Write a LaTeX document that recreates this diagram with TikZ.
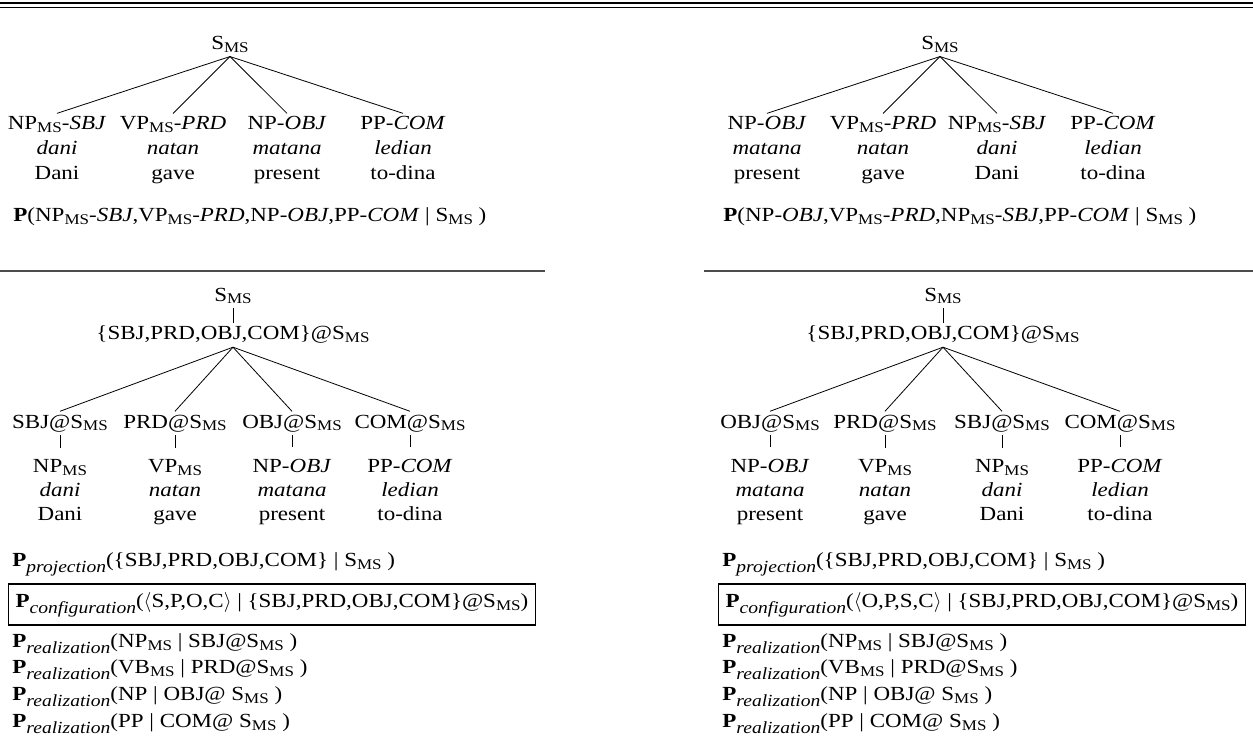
\documentclass[tikz,border=0pt]{standalone}
\usepackage{fontspec}
\setmainfont{Liberation Serif}[FakeStretch=1.15]
\newcommand{\msub}{\raisebox{-0.15em}{\fontsize{7.4}{8}\selectfont MS}}
\newcommand{\Psub}[1]{\textbf{P}\raisebox{-0.32em}{\fontsize{8.5}{9}\selectfont\itshape #1}}
\begin{document}
\begin{tikzpicture}[x=0.5pt,y=-0.5pt,
  every node/.style={font=\fontsize{10}{12}\selectfont},
  lab/.style={inner sep=1.5pt,anchor=base},
  formula/.style={inner sep=0pt,anchor=base west},
  cfgbox/.style={draw,line width=0.6pt,inner xsep=3.5pt,inner ysep=4pt,anchor=base west},
  branch/.style={line width=0.4pt},
  stem/.style={line width=0.4pt,shorten >=4pt},
  seprule/.style={line width=0.6pt,black!70}]
\useasboundingbox (0,0) rectangle (1253,743);
% top rules
\draw[line width=1.15pt] (0,2.8) -- (1253,2.8);
\draw[line width=0.5pt] (0,7.5) -- (1253,7.5);
\draw[seprule] (0,271) -- (545,271);
\draw[seprule] (704,271) -- (1253,271);

% ---------- top left tree ----------
\node[lab] (tlr) at (230,50) {S\msub};
\node[lab] (tl1) at (57,130) {NP\msub-\textit{SBJ}};
\node[lab] (tl1w) at (57,155) {\textit{dani}};
\node[lab] (tl1g) at (57,180) {Dani};
\node[lab] (tl2) at (173,130) {VP\msub-\textit{PRD}};
\node[lab] (tl2w) at (173,155) {\textit{natan}};
\node[lab] (tl2g) at (173,180) {gave};
\node[lab] (tl3) at (287,130) {NP-\textit{OBJ}};
\node[lab] (tl3w) at (287,155) {\textit{matana}};
\node[lab] (tl3g) at (287,180) {present};
\node[lab] (tl4) at (403,130) {PP-\textit{COM}};
\node[lab] (tl4w) at (403,155) {\textit{ledian}};
\node[lab] (tl4g) at (403,180) {to-dina};
\foreach \c in {tl1,tl2,tl3,tl4} \draw[branch] (tlr.south) -- (\c.north);
\node[formula] (tlf) at (13,222) {\textbf{P}(NP\msub-\textit{SBJ},VP\msub-\textit{PRD},NP-\textit{OBJ},PP-\textit{COM} | S\msub{} )};

% ---------- top right tree ----------
\node[lab] (trr) at (940,50) {S\msub};
\node[lab] (tr1) at (767,130) {NP-\textit{OBJ}};
\node[lab] (tr1w) at (767,155) {\textit{matana}};
\node[lab] (tr1g) at (767,180) {present};
\node[lab] (tr2) at (883,130) {VP\msub-\textit{PRD}};
\node[lab] (tr2w) at (883,155) {\textit{natan}};
\node[lab] (tr2g) at (883,180) {gave};
\node[lab] (tr3) at (997,130) {NP\msub-\textit{SBJ}};
\node[lab] (tr3w) at (997,155) {\textit{dani}};
\node[lab] (tr3g) at (997,180) {Dani};
\node[lab] (tr4) at (1113,130) {PP-\textit{COM}};
\node[lab] (tr4w) at (1113,155) {\textit{ledian}};
\node[lab] (tr4g) at (1113,180) {to-dina};
\foreach \c in {tr1,tr2,tr3,tr4} \draw[branch] (trr.south) -- (\c.north);
\node[formula] (trf) at (723,222) {\textbf{P}(NP-\textit{OBJ},VP\msub-\textit{PRD},NP\msub-\textit{SBJ},PP-\textit{COM} | S\msub{} )};

% ---------- bottom left tree ----------
\node[lab] (blr) at (233,301) {S\msub};
\node[lab] (bls) at (233,340) {\{SBJ,PRD,OBJ,COM\}@S\msub};
\draw[branch] (blr.south) -- (bls.north);
\node[lab] (bl1) at (60,428) {SBJ@S\msub};
\node[lab] (bl2) at (175,428) {PRD@S\msub};
\node[lab] (bl3) at (292,428) {OBJ@S\msub};
\node[lab] (bl4) at (410,428) {COM@S\msub};
\foreach \c in {bl1,bl2,bl3,bl4} \draw[branch] (bls.south) -- (\c.north);
\node[lab] (bl1n) at (60,472) {NP\msub};
\node[lab] (bl1w) at (60,496) {\textit{dani}};
\node[lab] (bl1g) at (60,520) {Dani};
\node[lab] (bl2n) at (175,472) {VP\msub};
\node[lab] (bl2w) at (175,496) {\textit{natan}};
\node[lab] (bl2g) at (175,520) {gave};
\node[lab] (bl3n) at (292,472) {NP-\textit{OBJ}};
\node[lab] (bl3w) at (292,496) {\textit{matana}};
\node[lab] (bl3g) at (292,520) {present};
\node[lab] (bl4n) at (410,472) {PP-\textit{COM}};
\node[lab] (bl4w) at (410,496) {\textit{ledian}};
\node[lab] (bl4g) at (410,520) {to-dina};
\foreach \c in {bl1,bl2,bl3,bl4} \draw[stem] (\c.south) -- (\c n.north);
\node[formula] (blp) at (12,566) {\Psub{projection}(\{SBJ,PRD,OBJ,COM\} | S\msub{} )};
\node[cfgbox] (blc) at (8,607) {\Psub{configuration}($\langle$S,P,O,C$\rangle$ | \{SBJ,PRD,OBJ,COM\}@S\msub)};
\node[formula] (blq1) at (12,647) {\Psub{realization}(NP\msub{} | SBJ@S\msub{} )};
\node[formula] (blq2) at (12,673) {\Psub{realization}(VB\msub{} | PRD@S\msub{} )};
\node[formula] (blq3) at (12,700) {\Psub{realization}(NP | OBJ@ S\msub{} )};
\node[formula] (blq4) at (12,727) {\Psub{realization}(PP | COM@ S\msub{} )};

% ---------- bottom right tree ----------
\node[lab] (brr) at (943,301) {S\msub};
\node[lab] (brs) at (943,340) {\{SBJ,PRD,OBJ,COM\}@S\msub};
\draw[branch] (brr.south) -- (brs.north);
\node[lab] (br1) at (770,428) {OBJ@S\msub};
\node[lab] (br2) at (885,428) {PRD@S\msub};
\node[lab] (br3) at (1002,428) {SBJ@S\msub};
\node[lab] (br4) at (1120,428) {COM@S\msub};
\foreach \c in {br1,br2,br3,br4} \draw[branch] (brs.south) -- (\c.north);
\node[lab] (br1n) at (770,472) {NP-\textit{OBJ}};
\node[lab] (br1w) at (770,496) {\textit{matana}};
\node[lab] (br1g) at (770,520) {present};
\node[lab] (br2n) at (885,472) {VP\msub};
\node[lab] (br2w) at (885,496) {\textit{natan}};
\node[lab] (br2g) at (885,520) {gave};
\node[lab] (br3n) at (1002,472) {NP\msub};
\node[lab] (br3w) at (1002,496) {\textit{dani}};
\node[lab] (br3g) at (1002,520) {Dani};
\node[lab] (br4n) at (1120,472) {PP-\textit{COM}};
\node[lab] (br4w) at (1120,496) {\textit{ledian}};
\node[lab] (br4g) at (1120,520) {to-dina};
\foreach \c in {br1,br2,br3,br4} \draw[stem] (\c.south) -- (\c n.north);
\node[formula] (brp) at (722,566) {\Psub{projection}(\{SBJ,PRD,OBJ,COM\} | S\msub{} )};
\node[cfgbox] (brc) at (718,607) {\Psub{configuration}($\langle$O,P,S,C$\rangle$ | \{SBJ,PRD,OBJ,COM\}@S\msub)};
\node[formula] (brq1) at (722,647) {\Psub{realization}(NP\msub{} | SBJ@S\msub{} )};
\node[formula] (brq2) at (722,673) {\Psub{realization}(VB\msub{} | PRD@S\msub{} )};
\node[formula] (brq3) at (722,700) {\Psub{realization}(NP | OBJ@ S\msub{} )};
\node[formula] (brq4) at (722,727) {\Psub{realization}(PP | COM@ S\msub{} )};
\end{tikzpicture}
\end{document}
